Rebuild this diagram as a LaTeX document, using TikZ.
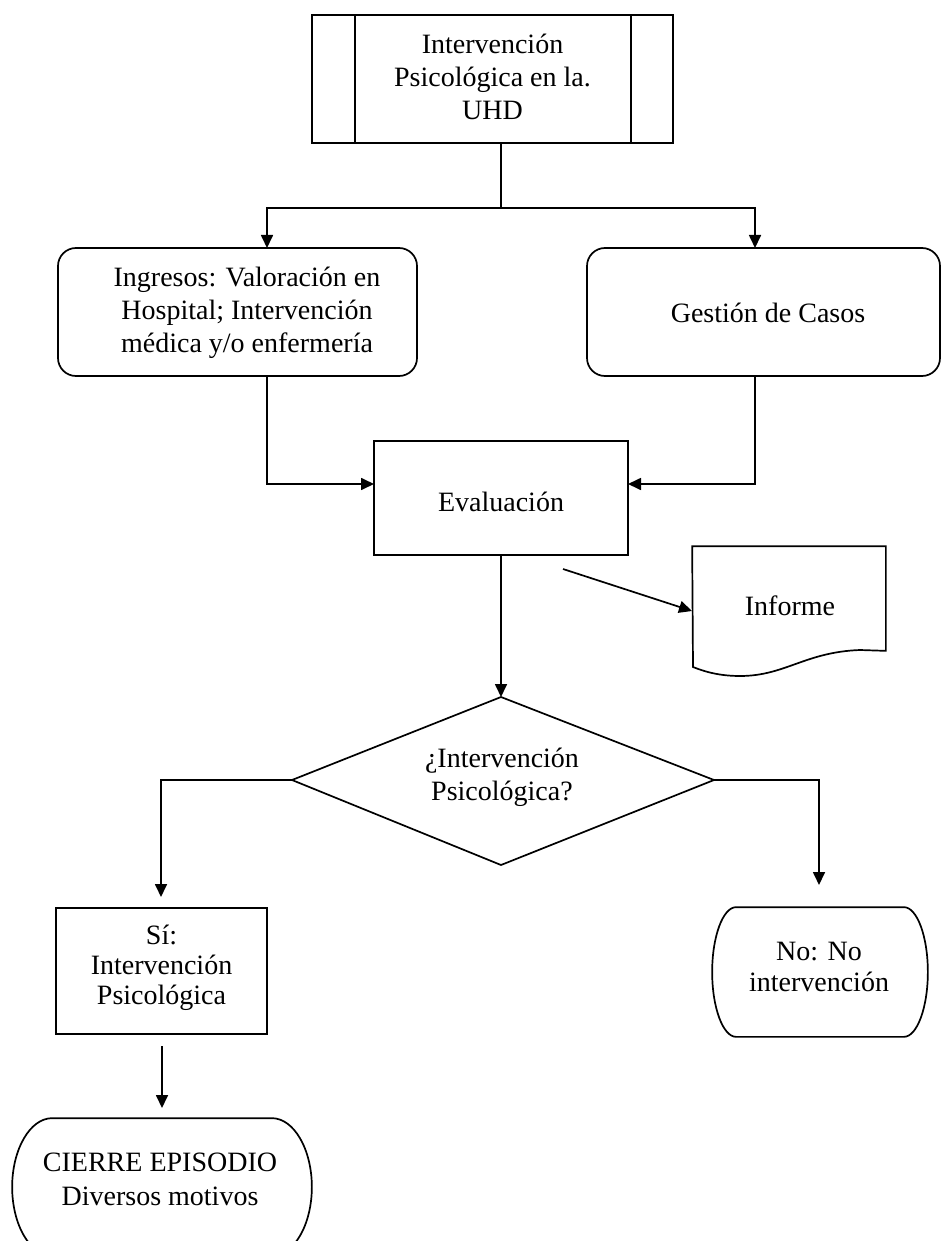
\documentclass[tikz,border=0pt]{standalone}
\usepackage{fontspec}
\setmainfont{Liberation Serif}
\usetikzlibrary{arrows.meta}
\begin{document}
\begin{tikzpicture}[x=1pt,y=-1pt,
  line width=1.7pt,
  every node/.style={font=\fontsize{28}{33}\selectfont, align=center, inner sep=0pt},
  arr/.style={-{Triangle[length=13pt,width=12pt]}},
  shapebox/.style={draw, minimum width=#1},
  plainbox/.style={draw=none}]
\useasboundingbox (0,0) rectangle (942,1241);
\fill[white] (0,0) rectangle (942,1241);

% top predefined process
\node[shapebox=361pt, minimum height=128pt] (top) at (492.5,79) {};
\node (toptext) at (492.5,77) {Intervención\\Psicológica en la.\\UHD};
\draw ([xshift=44pt]top.north west) -- ([xshift=44pt]top.south west);
\draw ([xshift=-43pt]top.north east) -- ([xshift=-43pt]top.south east);

\coordinate (split) at (501,208);
\coordinate (ingIn) at (267,248);
\coordinate (gesIn) at (755,248);
\draw (top.south -| split) -- (split);
\draw[arr] (split) -| (ingIn);
\draw[arr] (split) -| (gesIn);

% second row
\node[shapebox=359pt, minimum height=128pt, rounded corners=18pt] (ing) at (237.5,312) {};
\node (ingtext) at (247,313) {Ingresos: Valoración en\\Hospital; Intervención\\médica y/o enfermería};
\node[shapebox=353pt, minimum height=128pt, rounded corners=18pt] (ges) at (763.5,312) {};
\node (gestext) at (768,313) {Gestión de Casos};

% evaluation
\node[shapebox=254pt, minimum height=114pt] (eva) at (501,498) {};
\node (evatext) at (501,502) {Evaluación};
\coordinate (ingOut) at (267,376);
\coordinate (gesOut) at (755,376);
\coordinate (evaL) at (374,484);
\coordinate (evaR) at (628,484);
\draw[arr] (ingOut) |- (evaL);
\draw[arr] (gesOut) |- (evaR);

% informe (document)
\node[plainbox, minimum width=192pt, minimum height=103pt] (inf) at (789,598.5) {};
\draw (inf.north west) -- (inf.north east) -- (inf.south east) -- (860,650)
  .. controls (805,652) and (785,676) .. (740,676)
  .. controls (718,676) and (703,671) .. (693,667) -- cycle;
\node (inftext) at (790,606) {Informe};
\coordinate (infFrom) at (563,569);
\coordinate (infIn) at (692,611);
\draw[arr] (infFrom) -- (infIn);

% decision
\coordinate (dTop) at (501,697);
\coordinate (dLeft) at (292,780);
\coordinate (dRight) at (714,780);
\coordinate (dBot) at (501,865);
\draw (dTop) -- (dRight) -- (dBot) -- (dLeft) -- cycle;
\node (dq) at (502,777) {¿Intervención\\Psicológica?};
\draw[arr] (eva.south) -- (dTop);

% yes branch
\coordinate (siIn) at (161,897);
\draw[arr] (dLeft) -| (siIn);
\node[shapebox=211pt, minimum height=126pt] (si) at (161.5,971) {};
\node[font=\fontsize{28}{30}\selectfont] (sitext) at (161.5,968) {Sí:\\Intervención\\Psicológica};

% no branch
\coordinate (noIn) at (819,885);
\draw[arr] (dRight) -| (noIn);
\node[plainbox, minimum width=214pt, minimum height=128pt] (no) at (820,972) {};
\draw ([xshift=24pt]no.north west) -- ([xshift=-24pt]no.north east)
  .. controls +(13.3,0) and +(0,-35.3) .. (no.east)
  .. controls +(0,35.3) and +(13.3,0) .. ([xshift=-24pt]no.south east)
  -- ([xshift=24pt]no.south west)
  .. controls +(-13.3,0) and +(0,35.3) .. (no.west)
  .. controls +(0,-35.3) and +(-13.3,0) .. ([xshift=24pt]no.north west) -- cycle;
\node[font=\fontsize{28}{31}\selectfont] (notext) at (819,967) {No: No\\intervención};

% closing
\coordinate (siOut) at (162,1046);
\coordinate (ciIn) at (162,1108);
\draw[arr] (siOut) -- (ciIn);
\node[plainbox, minimum width=298pt, minimum height=136pt] (ci) at (162,1187) {};
\draw ([xshift=40pt]ci.north west) -- ([xshift=-40pt]ci.north east)
  .. controls +(22.1,0) and +(0,-37.6) .. (ci.east)
  .. controls +(0,37.6) and +(22.1,0) .. ([xshift=-40pt]ci.south east)
  -- ([xshift=40pt]ci.south west)
  .. controls +(-22.1,0) and +(0,37.6) .. (ci.west)
  .. controls +(0,-37.6) and +(-22.1,0) .. ([xshift=40pt]ci.north west) -- cycle;
\node[font=\fontsize{28}{34}\selectfont] (citext) at (160,1179) {CIERRE EPISODIO\\Diversos motivos};
\end{tikzpicture}
\end{document}
